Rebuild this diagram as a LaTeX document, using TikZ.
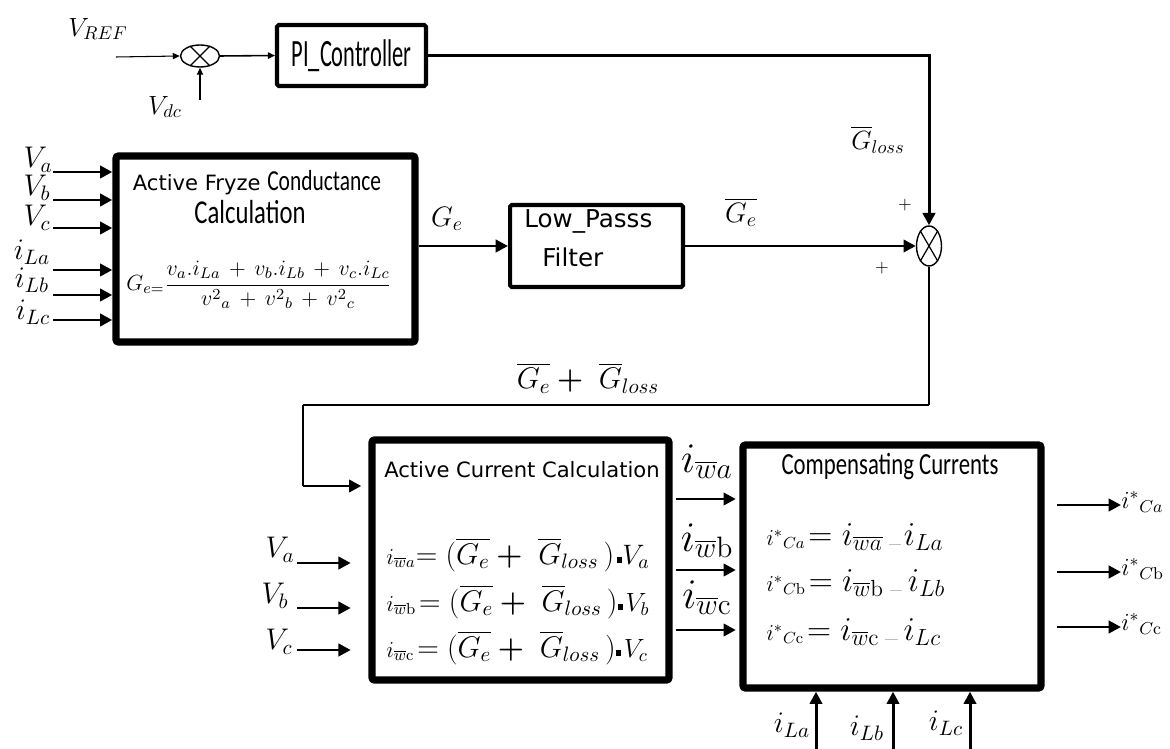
\RequirePackage{fix-cm}
\documentclass[tikz,border=0pt]{standalone}
\usepackage{amsmath,amssymb,bm}
\usepackage[no-math]{fontspec}
\newfontfamily\dvs{DejaVu Sans}
\newfontfamily\carlN[FakeStretch=0.74]{Carlito}
\newfontfamily\carlPI[FakeStretch=0.58]{Carlito}
\usetikzlibrary{arrows.meta,shapes.geometric}
\newcommand\myfs[1]{\fontsize{#1}{#1}\selectfont}
\newcommand\sq{\rule[1pt]{3pt}{3pt}}
\newcommand\gdash{\textcolor{black!25}{\rule[0pt]{7pt}{0.6pt}}}
\tikzset{
  thinarr/.style={line width=0.6pt,-{Triangle[length=4pt,width=3.5pt]}},
  medarr/.style={line width=1.7pt,-{Triangle[length=7pt,width=7pt]}},
  bigbox/.style={draw,line width=4.2pt,rounded corners=1.5pt,inner sep=0pt},
  midbox/.style={draw,line width=2.3pt,rounded corners=1pt,inner sep=0pt},
  summer/.style={draw,ellipse,line width=0.8pt,inner sep=0pt},
  lbl/.style={inner sep=0pt},
  txt/.style={inner sep=0pt}
}
\begin{document}
\begin{tikzpicture}[x=0.02cm,y=-0.02cm]
\useasboundingbox (0,0) rectangle (1170,749);

% ---------- top loop ----------
\node[lbl,font=\myfs{15}] (vref) at (98,29) {$V_{REF}$};
\node[summer,minimum width=0.78cm,minimum height=0.44cm] (s1) at (200,56) {};
\draw[line width=0.7pt] (s1.45) -- (s1.225) (s1.135) -- (s1.315);
\coordinate (vrefin) at (116,57);
\draw[thinarr] (vrefin) -- (s1.west);
\node[lbl,font=\myfs{15}] (vdc) at (165,107) {$V_{dc}$};
\coordinate (vdcin) at (200,100);
\draw[thinarr] (vdcin) -- (s1.south);
\node[midbox,minimum width=2.98cm,minimum height=1.22cm] (PI) at (351.5,55.5) {\carlPI\myfs{22}PI\_Controller};
\draw[thinarr,line width=0.9pt] (s1.east) -- (PI.west);

\node[summer,minimum width=0.5cm,minimum height=0.8cm] (s2) at (929,246) {};
\draw[line width=0.7pt] (s2.60) -- (s2.240) (s2.120) -- (s2.300);
\draw[medarr] (PI.east) -| (s2.north);
\node[lbl,font=\myfs{15}] (gloss) at (878,140) {$\overline{G}_{loss}$};
\node[lbl,font=\myfs{10}] (p1) at (905,205) {$+$};
\node[lbl,font=\myfs{10}] (p2) at (882,268) {$+$};

% ---------- Fryze block ----------
\node[bigbox,minimum width=5.98cm,minimum height=3.72cm] (F) at (265.5,249) {};
\node[txt] (Ft1) at (257,183) {\dvs\myfs{12}Active Fryze {\carlN\myfs{16.5}Conductance}};
\node[txt] (Ft2) at (250,212) {\carlN\myfs{19}Calculation};
\node[txt] (Ff) at (259,285) {\myfs{12.5}$G_{e=}\dfrac{v_a.i_{La}\,+\,v_b.i_{Lb}\,+\,v_c.i_{Lc}}{{v^2}_a\,+\,{v^2}_b\,+\,{v^2}_c}$};

\foreach \n/\y/\t/\lx/\ly in {a/172/V_a/38/160, b/200/V_b/37/188, c/228/V_c/37/218,
                              la/270/i_{La}/32/252, lb/295/i_{Lb}/32/280, lc/320/i_{Lc}/33/312}{
  \node[lbl,font=\myfs{17}] (in\n) at (\lx,\ly) {$\t$};
  \coordinate (s\n) at (53,\y);
  \draw[medarr] (s\n) -- (s\n -| F.west);
}

% ---------- Low pass ----------
\node[midbox,minimum width=3.46cm,minimum height=1.64cm] (LP) at (596.5,246) {};
\node[txt,anchor=west] (LPt1) at (524,221) {\dvs\myfs{14}Low\_Passs};
\node[txt,anchor=west] (LPt2) at (542,257) {\dvs\myfs{14}Filter};
\draw[medarr] (F.east |- LP.west) -- (LP.west);
\node[lbl,font=\myfs{16}] (ge) at (447,219) {$G_e$};
\draw[medarr] (LP.east) -- (s2.west);
\node[lbl,font=\myfs{16}] (geb) at (741,212) {$\overline{G_e}$};

% ---------- feedback path ----------
\coordinate (c1) at (929,405);
\coordinate (c2) at (303,405);
\coordinate (c3) at (303,486);
\draw[line width=1.1pt] (s2.south) -- (c1);
\draw[line width=1.6pt] (c1) -- (c2);
\draw[line width=1.1pt] (c2) -- (c3);
\node[lbl,font=\myfs{17}] (gsum) at (588,378) {$\overline{G_e}\bm{+}\ \overline{G}_{loss}$};

% ---------- Active current block ----------
\node[bigbox,minimum width=5.94cm,minimum height=4.8cm] (AC) at (520.5,560) {};
\draw[medarr,shorten >=4pt] (c3) -- (c3 -| AC.west);
\node[txt] (ACt) at (522,470) {\dvs\myfs{12}Active Current Calculation};
\node[txt,anchor=west] (ACr1) at (386,555) {{\myfs{13}$i_{\overline{w}a}$}{\myfs{17}$=(\overline{G_e}\bm{+}\ \overline{G}_{loss}\,)$}\,\sq{\myfs{16}$V_a$}};
\node[txt,anchor=west] (ACr2) at (386,602) {{\myfs{13}$i_{\overline{w}\mathrm{b}}$}\,{\myfs{17}$=(\overline{G_e}\bm{+}\ \overline{G}_{loss}\,)$}\sq\,{\myfs{15}$V_b$}};
\node[txt,anchor=west] (ACr3) at (386,648) {{\myfs{13}$i_{\overline{w}\mathrm{c}}$}\,{\myfs{17}$=(\overline{G_e}\bm{+}\ \overline{G}_{loss}\,)$}\sq\,{\myfs{15}$V_c$}};
\foreach \n/\y/\t/\lx/\ly in {a/563/V_a/280/550, b/608/V_b/275/596, c/650/V_c/279/642}{
  \node[lbl,font=\myfs{17}] (v\n) at (\lx,\ly) {$\t$};
  \coordinate (u\n) at (297,\y);
  \draw[medarr,shorten >=10pt] (u\n) -- (u\n -| AC.west);
}

% ---------- Compensating block ----------
\node[bigbox,minimum width=5.96cm,minimum height=4.86cm] (CC) at (892,566.5) {};
\node[txt] (CCt) at (890,467) {\carlN\myfs{17.5}Compensating Currents};
\node[txt,anchor=west] (CCr1) at (766,537) {{\myfs{13}${i^{*}}_{Ca}$}\,{\myfs{19}$=i_{\overline{wa}}$}\ \gdash\,{\myfs{19}$i_{La}$}};
\node[txt,anchor=west] (CCr2) at (766,583) {{\myfs{13}${i^{*}}_{C\mathrm{b}}$}\,{\myfs{19}$=i_{\overline{w}\mathrm{b}}$}\ \gdash\ {\myfs{19}$i_{Lb}$}};
\node[txt,anchor=west] (CCr3) at (766,632) {{\myfs{13}${i^{*}}_{C\mathrm{c}}$}\,{\myfs{19}$=i_{\overline{w}\mathrm{c}}$}\ \gdash\ {\myfs{19}$i_{Lc}$}};

\foreach \n/\y/\t/\ly in {a/499/i_{\overline{w}a}/462, b/570/i_{\overline{w}\mathrm{b}}/541, c/630/i_{\overline{w}\mathrm{c}}/598}{
  \node[lbl,font=\myfs{24}] (w\n) at (707,\ly) {$\t$};
  \coordinate (o\n) at (AC.east |- 0,\y);
  \draw[medarr,shorten <=2pt,shorten >=2pt] (o\n) -- (o\n -| CC.west);
}

\foreach \n/\y/\t in {a/505/{i^{*}}_{Ca}, b/572/{i^{*}}_{C\mathrm{b}}, c/627/{i^{*}}_{C\mathrm{c}}}{
  \node[lbl,anchor=west,font=\myfs{14}] (out\n) at (1121,\y-3) {$\t$};
  \coordinate (q\n) at (1057,\y);
  \draw[medarr] (q\n) -- (q\n -| out\n.west);
}

\foreach \n/\x/\t/\lx/\ly in {a/816/i_{La}/792/725, b/893/i_{Lb}/867/728, c/970/i_{Lc}/946/723}{
  \node[lbl,font=\myfs{17}] (il\n) at (\lx,\ly) {$\t$};
  \coordinate (b\n) at (\x,749);
  \draw[medarr] (b\n) -- (b\n |- CC.south);
}
\end{tikzpicture}
\end{document}
